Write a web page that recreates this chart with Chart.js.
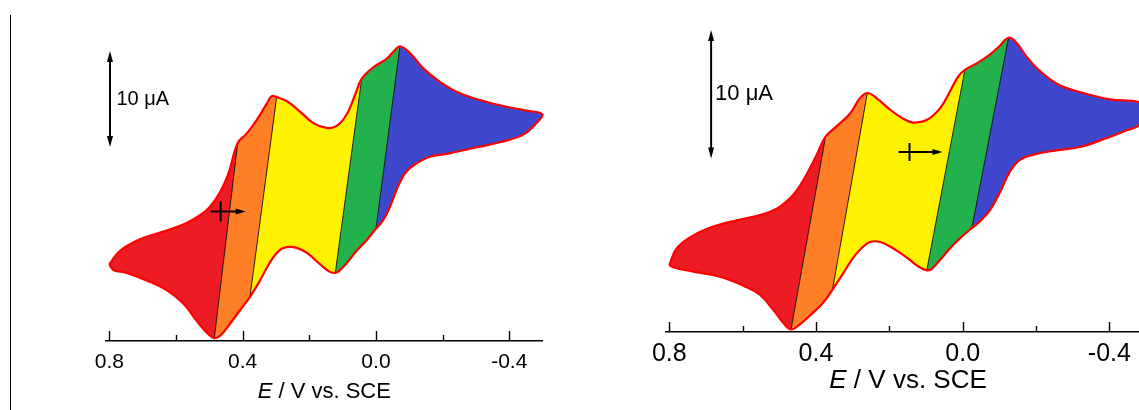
<!DOCTYPE html>
<html>
<head>
<meta charset="utf-8">
<script src="https://cdn.jsdelivr.net/npm/chart.js@4"></script>
<style>
   html, body { margin: 0; padding: 0; background: #fff; overflow: hidden; }
   #wrap { position: relative; width: 1139px; height: 410px; overflow: hidden; }
   .panel { position: absolute; top: 0; }
   #divider { position: absolute; left: 10px; top: 15px; width: 1px; height: 395px; background: #000; }
</style>
</head>
<body>
<div id="wrap">
   <div id="divider"></div>
   <canvas id="cvLeft" class="panel" width="570" height="410" style="left:0"></canvas>
   <canvas id="cvRight" class="panel" width="600" height="410" style="left:570px"></canvas>
</div>
<script>
// potential axis (V vs. SCE)
const majorTicks = [0.8, 0.4, 0.0, -0.4];
const tickLabels = ['0.8', '0.4', '0.0', '-0.4'];
const minorTicks = [0.6, 0.2, -0.2];

// fill colours of the five regions, from the positive end to the negative end
const bandColors = ['#ED1C24', '#FF7F27', '#FFF200', '#22B14C', '#3F48CC'];

// left voltammogram, current in µA
const leftUpperE = [0.800, 0.768, 0.708, 0.628, 0.568, 0.528, 0.498, 0.468, 0.443, 0.415, 0.388, 0.358, 0.328, 0.313, 0.298, 0.268, 0.228, 0.188, 0.148, 0.118, 0.088, 0.063, 0.043, 0.008, -0.032, -0.057, -0.072, -0.102, -0.142, -0.192, -0.252, -0.322, -0.392, -0.452, -0.500];
const leftUpperI = [-5.5, -4.1, -2.9, -2.0, -1.2, -0.4, 0.5, 2.0, 3.9, 7.1, 8.1, 9.5, 11.2, 12.0, 11.9, 11.5, 10.4, 9.2, 8.7, 8.9, 10.1, 12.1, 13.8, 15.0, 15.9, 16.8, 17.2, 16.5, 14.9, 13.5, 12.3, 11.5, 10.9, 10.5, 10.1];
const leftLowerE = [-0.482, -0.442, -0.372, -0.292, -0.212, -0.162, -0.122, -0.090, -0.065, -0.040, -0.020, 0.000, 0.028, 0.058, 0.088, 0.110, 0.122, 0.138, 0.168, 0.208, 0.238, 0.263, 0.288, 0.318, 0.348, 0.378, 0.408, 0.438, 0.466, 0.485, 0.508, 0.538, 0.578, 0.628, 0.688, 0.748, 0.788, 0.800];
const leftLowerI = [9.2, 8.0, 7.2, 6.6, 6.0, 5.7, 5.0, 4.1, 2.5, 0.3, -1.0, -1.8, -3.0, -4.1, -5.4, -6.2, -6.4, -6.3, -5.5, -4.3, -3.8, -3.7, -4.0, -5.3, -7.2, -8.9, -10.3, -11.7, -12.9, -13.2, -12.6, -11.4, -9.6, -8.2, -7.2, -6.4, -6.1, -5.5];
const leftTopCuts = [0.415, 0.298, 0.043, -0.072];
const leftBottomCuts = [0.485, 0.378, 0.122, 0.000];
const leftStart = [0.466, 0];
const leftBar = [0.798, 6.7];

// right voltammogram, current in µA
const rightUpperE = [0.800, 0.780, 0.735, 0.680, 0.616, 0.553, 0.507, 0.475, 0.453, 0.425, 0.398, 0.374, 0.344, 0.307, 0.280, 0.260, 0.235, 0.198, 0.162, 0.135, 0.098, 0.062, 0.035, 0.012, -0.006, -0.038, -0.075, -0.102, -0.125, -0.147, -0.175, -0.211, -0.265, -0.329, -0.402, -0.481, -0.500];
const rightUpperI = [-8.8, -7.5, -6.5, -5.8, -5.3, -4.9, -4.4, -3.7, -3.0, -1.7, -0.2, 1.2, 2.0, 3.0, 4.2, 4.6, 4.2, 3.3, 2.6, 2.3, 2.5, 3.4, 4.7, 5.9, 6.4, 6.9, 7.6, 8.3, 8.9, 8.5, 7.4, 6.3, 5.2, 4.6, 4.1, 3.9, 3.4];
const rightLowerE = [-0.481, -0.447, -0.393, -0.320, -0.247, -0.193, -0.156, -0.129, -0.102, -0.075, -0.047, -0.025, 0.007, 0.035, 0.062, 0.085, 0.098, 0.121, 0.153, 0.189, 0.225, 0.253, 0.280, 0.303, 0.325, 0.355, 0.380, 0.416, 0.444, 0.468, 0.489, 0.516, 0.553, 0.598, 0.662, 0.735, 0.785, 0.800];
const rightLowerI = [2.1, 1.7, 1.1, 0.4, 0.1, -0.2, -0.6, -1.5, -3.1, -4.5, -5.4, -5.9, -6.7, -7.5, -8.4, -9.1, -9.2, -8.9, -8.2, -7.5, -7.0, -7.0, -7.6, -8.4, -9.4, -10.7, -11.7, -12.7, -13.4, -13.8, -13.3, -12.3, -11.1, -10.4, -9.7, -9.3, -9.0, -8.8];
const rightTopCuts = [0.374, 0.260, -0.006, -0.125];
const rightBottomCuts = [0.468, 0.355, 0.098, -0.025];
const rightStart = [0.145, 0];
const rightBar = [0.686, -0.5];

const barSpan = 10;
const barLabel = '10 μA';
const titleVar = 'E', titleRest = ' / V vs. SCE';
const FONT = '"Liberation Sans", Arial, sans-serif';

function toPoints(E, I) {
   return E.map((e, k) => ({x: e, y: I[k]}));
}

// one coloured region: upper branch between two cuts, then back along the lower branch
function bandData(cv, k) {
   const up = toPoints(cv.upperE, cv.upperI), lo = toPoints(cv.lowerE, cv.lowerI);
   const last = bandColors.length - 1;
   const a = k === 0 ? 0 : cv.upperE.indexOf(cv.topCuts[k - 1]);
   const b = k === last ? up.length - 1 : cv.upperE.indexOf(cv.topCuts[k]);
   const c = k === last ? 0 : cv.lowerE.indexOf(cv.bottomCuts[k]);
   const d = k === 0 ? lo.length - 1 : cv.lowerE.indexOf(cv.bottomCuts[k - 1]);
   const pts = up.slice(a, b + 1);
   // corners repeated so the slanted cut stays a straight edge
   if (k < last) pts.push(up[b], lo[c]);
   return pts.concat(lo.slice(c, d + 1));
}

function arrowHead(ctx, tx, ty, dx, dy, len, half) {
   ctx.beginPath();
   ctx.moveTo(tx, ty);
   ctx.lineTo(tx - dx * len - dy * half, ty - dy * len + dx * half);
   ctx.lineTo(tx - dx * len + dy * half, ty - dy * len - dx * half);
   ctx.closePath();
   ctx.fill();
}

const cvDecor = {
   id: 'cvDecor',
   afterDraw(chart, args, o) {
      const ctx = chart.ctx;
      const x = chart.scales.x, y = chart.scales.y;
      const base = x.top;
      ctx.save();
      ctx.strokeStyle = '#000';
      ctx.fillStyle = '#000';

      // tick marks stand up from the axis line
      ctx.lineWidth = 1.4;
      ctx.beginPath();
      for (const v of majorTicks) {
         const px = Math.round(x.getPixelForValue(v)) + 0.5;
         ctx.moveTo(px, base); ctx.lineTo(px, base - 10);
      }
      for (const v of minorTicks) {
         const px = Math.round(x.getPixelForValue(v)) + 0.5;
         ctx.moveTo(px, base); ctx.lineTo(px, base - 6);
      }
      ctx.stroke();

      // axis title with an italic E
      const fi = `italic ${o.titleSize}px ${FONT}`, fn = `${o.titleSize}px ${FONT}`;
      ctx.font = fi;
      const w1 = ctx.measureText(titleVar).width;
      ctx.font = fn;
      const w2 = ctx.measureText(titleRest).width;
      let tx = (x.left + x.right) / 2 - (w1 + w2) / 2;
      ctx.textAlign = 'left';
      ctx.textBaseline = 'middle';
      ctx.font = fi;
      ctx.fillText(titleVar, tx, base + o.titleOffset);
      ctx.font = fn;
      ctx.fillText(titleRest, tx + w1, base + o.titleOffset);

      // current scale bar
      const bx = x.getPixelForValue(o.bar[0]);
      const b0 = y.getPixelForValue(o.bar[1]), b1 = y.getPixelForValue(o.bar[1] + barSpan);
      ctx.lineWidth = 2;
      ctx.beginPath();
      ctx.moveTo(bx, b1 + 8); ctx.lineTo(bx, b0 - 8);
      ctx.stroke();
      arrowHead(ctx, bx, b1, 0, -1, 11, 3);
      arrowHead(ctx, bx, b0, 0, 1, 11, 3);
      ctx.font = `${o.barSize}px ${FONT}`;
      ctx.fillText(barLabel, bx + o.barGap, (b0 + b1) / 2);

      // starting point and scan direction
      const sx = x.getPixelForValue(o.start[0]), sy = y.getPixelForValue(o.start[1]);
      ctx.beginPath();
      ctx.moveTo(sx, sy - o.mark[2]); ctx.lineTo(sx, sy + o.mark[2]);
      ctx.moveTo(sx - o.mark[0], sy); ctx.lineTo(sx + o.mark[1] - 8, sy);
      ctx.stroke();
      arrowHead(ctx, sx + o.mark[1], sy, 1, 0, 10, 3);
      ctx.restore();
   }
};

function drawCV(id, cv, g) {
   const up = toPoints(cv.upperE, cv.upperI), lo = toPoints(cv.lowerE, cv.lowerI);
   const datasets = [];
   bandColors.forEach((color, k) => {
      datasets.push({
         data: bandData(cv, k), fill: 'shape', backgroundColor: color,
         borderWidth: 0, pointRadius: 0, tension: 0.4, order: 3, clip: false
      });
   });
   cv.topCuts.forEach((e, k) => {
      datasets.push({
         data: [up[cv.upperE.indexOf(e)], lo[cv.lowerE.indexOf(cv.bottomCuts[k])]],
         borderColor: 'rgba(0,0,0,0.85)', borderWidth: 1, pointRadius: 0, tension: 0,
         fill: false, order: 2, clip: false
      });
   });
   datasets.push({
      data: up.concat(lo), borderColor: '#FF0000', borderWidth: 2.2, pointRadius: 0,
      tension: 0.4, fill: false, order: 1, clip: false
   });

   new Chart(document.getElementById(id), {
      type: 'line',
      data: {datasets: datasets},
      plugins: [cvDecor],
      options: {
         responsive: false,
         animation: false,
         events: [],
         layout: {padding: {left: g.padLeft, right: g.padRight, top: g.padTop, bottom: 0}},
         plugins: {
            legend: {display: false},
            tooltip: {enabled: false},
            cvDecor: g.decor
         },
         scales: {
            x: {
               type: 'linear', reverse: true, min: g.xMin, max: g.xMax,
               afterBuildTicks: s => { s.ticks = majorTicks.concat(minorTicks).map(v => ({value: v})); },
               afterFit: s => { s.height = g.axisHeight; },
               grid: {display: false, drawTicks: false},
               border: {display: true, color: '#000', width: 1.5},
               ticks: {
                  padding: g.tickPad, color: '#000', maxRotation: 0, autoSkip: false,
                  font: {family: FONT, size: g.tickSize},
                  callback: v => { const k = majorTicks.indexOf(v); return k < 0 ? '' : tickLabels[k]; }
               }
            },
            y: {type: 'linear', display: false, min: g.yMin, max: g.yMax}
         }
      }
   });
}

drawCV('cvLeft', {
   upperE: leftUpperE, upperI: leftUpperI, lowerE: leftLowerE, lowerI: leftLowerI,
   topCuts: leftTopCuts, bottomCuts: leftBottomCuts
}, {
   xMin: -0.5, xMax: 0.81, yMin: -13.5, yMax: 20,
   padLeft: 106, padRight: 27.4, padTop: 19.4, axisHeight: 69,
   tickSize: 21, tickPad: 8.4,
   decor: {titleSize: 22, titleOffset: 50.5, bar: leftBar, barSize: 20, barGap: 6.5, start: leftStart, mark: [10, 25, 10]}
});

drawCV('cvRight', {
   upperE: rightUpperE, upperI: rightUpperI, lowerE: rightLowerE, lowerI: rightLowerI,
   topCuts: rightTopCuts, bottomCuts: rightBottomCuts
}, {
   xMin: -0.511, xMax: 0.809, yMin: -14.0, yMax: 9.9,
   padLeft: 96, padRight: 19.9, padTop: 24.9, axisHeight: 78,
   tickSize: 25, tickPad: 7.5,
   decor: {titleSize: 26, titleOffset: 49, bar: rightBar, barSize: 22, barGap: 4, start: rightStart, mark: [11, 33, 9]}
});
</script>
</body>
</html>
